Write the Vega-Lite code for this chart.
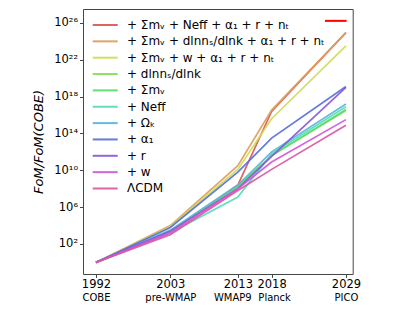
{
  "$schema": "https://vega.github.io/schema/vega-lite/v6.json",
  "width": 269.7,
  "height": 265,
  "autosize": "none",
  "padding": {"left": 83, "top": 9, "right": 62, "bottom": 37},
  "background": "white",
  "config": {
    "view": {"stroke": "#444", "strokeWidth": 1},
    "font": "DejaVu Sans",
    "axis": {"grid": false, "domain": false, "labelColor": "#000", "tickColor": "#444", "labelFont": "DejaVu Sans", "titleFont": "DejaVu Sans"},
    "legend": {"labelFont": "DejaVu Sans"}
  },
  "layer": [
    {
      "data": {
        "values": [
          {"model": "+ Σmᵥ + Neff + α₁ + r + nₜ", "year": 1992, "fom": 1},
          {"model": "+ Σmᵥ + Neff + α₁ + r + nₜ", "year": 2003, "fom": 2.0e3},
          {"model": "+ Σmᵥ + Neff + α₁ + r + nₜ", "year": 2013, "fom": 2.5e8},
          {"model": "+ Σmᵥ + Neff + α₁ + r + nₜ", "year": 2018, "fom": 2.5e16},
          {"model": "+ Σmᵥ + Neff + α₁ + r + nₜ", "year": 2029, "fom": 8.9e24},
          {"model": "+ Σmᵥ + dlnnₛ/dlnk + α₁ + r + nₜ", "year": 1992, "fom": 1},
          {"model": "+ Σmᵥ + dlnnₛ/dlnk + α₁ + r + nₜ", "year": 2003, "fom": 1.0e4},
          {"model": "+ Σmᵥ + dlnnₛ/dlnk + α₁ + r + nₜ", "year": 2013, "fom": 3.2e10},
          {"model": "+ Σmᵥ + dlnnₛ/dlnk + α₁ + r + nₜ", "year": 2018, "fom": 3.5e16},
          {"model": "+ Σmᵥ + dlnnₛ/dlnk + α₁ + r + nₜ", "year": 2029, "fom": 8.9e24},
          {"model": "+ Σmᵥ + w + α₁ + r + nₜ", "year": 1992, "fom": 1},
          {"model": "+ Σmᵥ + w + α₁ + r + nₜ", "year": 2003, "fom": 7.9e3},
          {"model": "+ Σmᵥ + w + α₁ + r + nₜ", "year": 2013, "fom": 1.26e10},
          {"model": "+ Σmᵥ + w + α₁ + r + nₜ", "year": 2018, "fom": 4.0e15},
          {"model": "+ Σmᵥ + w + α₁ + r + nₜ", "year": 2029, "fom": 3.2e23},
          {"model": "+ dlnnₛ/dlnk", "year": 1992, "fom": 1},
          {"model": "+ dlnnₛ/dlnk", "year": 2003, "fom": 2.5e3},
          {"model": "+ dlnnₛ/dlnk", "year": 2013, "fom": 2.0e8},
          {"model": "+ dlnnₛ/dlnk", "year": 2018, "fom": 4.0e11},
          {"model": "+ dlnnₛ/dlnk", "year": 2029, "fom": 3.2e16},
          {"model": "+ Σmᵥ", "year": 1992, "fom": 1},
          {"model": "+ Σmᵥ", "year": 2003, "fom": 2.5e3},
          {"model": "+ Σmᵥ", "year": 2013, "fom": 1.6e8},
          {"model": "+ Σmᵥ", "year": 2018, "fom": 4.0e11},
          {"model": "+ Σmᵥ", "year": 2029, "fom": 4.0e16},
          {"model": "+ Neff", "year": 1992, "fom": 1},
          {"model": "+ Neff", "year": 2003, "fom": 1.6e3},
          {"model": "+ Neff", "year": 2013, "fom": 1.26e7},
          {"model": "+ Neff", "year": 2018, "fom": 6.3e11},
          {"model": "+ Neff", "year": 2029, "fom": 7.9e16},
          {"model": "+ Ωₖ", "year": 1992, "fom": 1},
          {"model": "+ Ωₖ", "year": 2003, "fom": 3.2e3},
          {"model": "+ Ωₖ", "year": 2013, "fom": 2.5e8},
          {"model": "+ Ωₖ", "year": 2018, "fom": 1.0e12},
          {"model": "+ Ωₖ", "year": 2029, "fom": 1.6e17},
          {"model": "+ α₁", "year": 1992, "fom": 1},
          {"model": "+ α₁", "year": 2003, "fom": 6.3e3},
          {"model": "+ α₁", "year": 2013, "fom": 6.3e9},
          {"model": "+ α₁", "year": 2018, "fom": 3.2e13},
          {"model": "+ α₁", "year": 2029, "fom": 1.26e19},
          {"model": "+ r", "year": 1992, "fom": 1},
          {"model": "+ r", "year": 2003, "fom": 2.5e3},
          {"model": "+ r", "year": 2013, "fom": 1.0e8},
          {"model": "+ r", "year": 2018, "fom": 3.2e11},
          {"model": "+ r", "year": 2029, "fom": 1.0e19},
          {"model": "+ w", "year": 1992, "fom": 1},
          {"model": "+ w", "year": 2003, "fom": 1.6e3},
          {"model": "+ w", "year": 2013, "fom": 1.0e8},
          {"model": "+ w", "year": 2018, "fom": 7.9e10},
          {"model": "+ w", "year": 2029, "fom": 3.2e15},
          {"model": "ΛCDM", "year": 1992, "fom": 1},
          {"model": "ΛCDM", "year": 2003, "fom": 1.0e3},
          {"model": "ΛCDM", "year": 2013, "fom": 6.3e7},
          {"model": "ΛCDM", "year": 2018, "fom": 1.26e10},
          {"model": "ΛCDM", "year": 2029, "fom": 7.9e14}
        ]
      },
      "mark": {"type": "line", "strokeWidth": 1.7, "opacity": 0.92},
      "encoding": {
        "x": {
          "field": "year", "type": "quantitative",
          "scale": {"domain": [1990.08, 2030.0], "nice": false, "zero": false},
          "axis": {"orient": "bottom", "values": [1992, 2003, 2013, 2018, 2029], "format": "d", "title": null, "labelFontSize": 11.5, "tickSize": 3.5, "labelPadding": 1.5, "labelFlush": false, "labelOverlap": false}
        },
        "y": {
          "field": "fom", "type": "quantitative",
          "scale": {"type": "log", "domain": [0.055, 3.3e27], "nice": false},
          "axis": {
            "values": [1e2, 1e6, 1e10, 1e14, 1e18, 1e22, 1e26],
            "labelExpr": "datum.value == 1e2 ? '10²' : datum.value == 1e6 ? '10⁶' : datum.value == 1e10 ? '10¹⁰' : datum.value == 1e14 ? '10¹⁴' : datum.value == 1e18 ? '10¹⁸' : datum.value == 1e22 ? '10²²' : '10²⁶'",
            "title": "FoM/FoM(COBE)", "titleFontStyle": "italic", "titleFontWeight": "normal", "titleFontSize": 13, "titleColor": "#000", "titlePadding": 8,
            "labelFontSize": 11.5, "tickSize": 3.5, "labelPadding": 2, "labelOverlap": false
          }
        },
        "color": {
          "field": "model", "type": "nominal",
          "scale": {
            "domain": ["+ Σmᵥ + Neff + α₁ + r + nₜ", "+ Σmᵥ + dlnnₛ/dlnk + α₁ + r + nₜ", "+ Σmᵥ + w + α₁ + r + nₜ", "+ dlnnₛ/dlnk", "+ Σmᵥ", "+ Neff", "+ Ωₖ", "+ α₁", "+ r", "+ w", "ΛCDM"],
            "range": ["#db5757", "#db9f57", "#cfdb57", "#87db57", "#57db6f", "#57dbb7", "#57b7db", "#576fdb", "#8757db", "#cf57db", "#db579f"]
          },
          "legend": {
            "orient": "none", "legendX": 12.7, "legendY": 6.5, "title": null,
            "symbolType": "M-1.47,0H1.47", "symbolSize": 289, "symbolStrokeWidth": 2,
            "labelFontSize": 12, "labelOffset": 12.3, "rowPadding": 0.35, "labelColor": "#000", "padding": 0, "labelLimit": 300
          }
        }
      }
    },
    {
      "data": {"values": [{"start": 2025.9, "end": 2029.1, "level": 1.7e26}]},
      "mark": {"type": "rule", "color": "#ff0000", "strokeWidth": 2},
      "encoding": {
        "x": {
          "field": "start", "type": "quantitative",
          "scale": {"domain": [1990.08, 2030.0], "nice": false, "zero": false},
          "axis": {
            "orient": "bottom", "values": [1992, 2003, 2013, 2018, 2029],
            "labelExpr": "datum.value == 1992 ? 'COBE' : datum.value == 2003 ? 'pre-WMAP' : datum.value == 2013 ? 'WMAP9' : datum.value == 2018 ? 'Planck' : 'PICO'",
            "labelOffset": {"condition": [{"test": "datum.value == 2013", "value": -5.5}, {"test": "datum.value == 2018", "value": 2.5}], "value": 0},
            "ticks": false, "tickSize": 0, "labelPadding": 19, "labelFontSize": 10, "title": null, "labelFlush": false, "labelOverlap": false
          }
        },
        "x2": {"field": "end"},
        "y": {"field": "level", "type": "quantitative"}
      }
    }
  ],
  "resolve": {"scale": {"x": "independent"}, "axis": {"x": "independent"}}
}
